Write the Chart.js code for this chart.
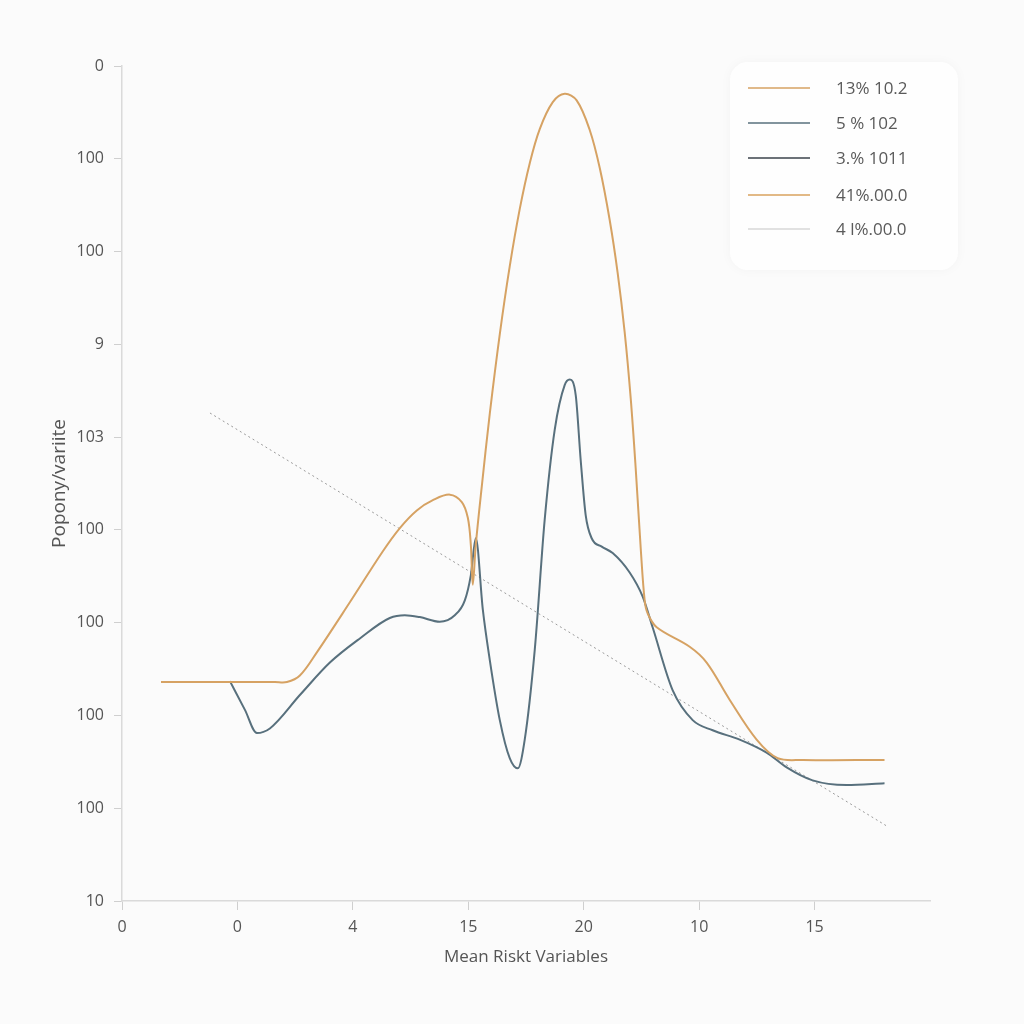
<!DOCTYPE html>
<html>
<head>
<meta charset="utf-8">
<script src="https://cdn.jsdelivr.net/npm/chart.js@4/dist/chart.umd.min.js"></script>
<style>
  html, body { margin: 0; padding: 0; background: #fbfbfb; }
  #wrap { width: 1024px; height: 1024px; }
</style>
</head>
<body>
<div id="wrap"><canvas id="c" width="1024" height="1024"></canvas></div>
<script>
// ---- data ----
const xTickLabels = ["0", "0", "4", "15", "20", "10", "15"];
const yTickLabels = ["10", "100", "100", "100", "100", "103", "9", "100", "100", "0"]; // bottom -> top

const seriesLabels = ["13% 10.2", "5 % 102", "3.% 1011", "41%.00.0", "4 l%.00.0"];

const orangeX = [0.338, 1.325, 1.429, 1.541, 1.688, 1.974, 2.260, 2.407, 2.554, 2.693, 2.840, 2.944, 2.996, 3.022, 3.039, 3.065, 3.117, 3.186, 3.273, 3.359, 3.446, 3.532, 3.619, 3.732, 3.835, 3.939, 4.052, 4.139, 4.225, 4.294, 4.355, 4.407, 4.450, 4.494, 4.528, 4.554, 4.632, 4.918, 5.065, 5.264, 5.498, 5.680, 5.900, 6.606];
const orangeY = [2.36, 2.36, 2.36, 2.43, 2.68, 3.22, 3.77, 4.02, 4.21, 4.32, 4.38, 4.30, 4.13, 3.84, 3.41, 3.84, 4.47, 5.25, 6.11, 6.84, 7.46, 7.95, 8.32, 8.61, 8.70, 8.63, 8.31, 7.90, 7.34, 6.77, 6.13, 5.42, 4.67, 3.80, 3.24, 3.10, 2.95, 2.74, 2.57, 2.17, 1.74, 1.54, 1.52, 1.52];

const slateX = [0.935, 1.065, 1.169, 1.281, 1.541, 1.801, 2.061, 2.320, 2.450, 2.580, 2.753, 2.883, 2.970, 3.022, 3.065, 3.126, 3.186, 3.273, 3.359, 3.429, 3.489, 3.576, 3.662, 3.749, 3.835, 3.879, 3.931, 3.974, 4.017, 4.069, 4.156, 4.251, 4.398, 4.511, 4.597, 4.771, 4.944, 5.117, 5.351, 5.584, 5.758, 5.983, 6.277, 6.606];
const slateY = [2.37, 2.06, 1.81, 1.86, 2.22, 2.57, 2.83, 3.05, 3.08, 3.06, 3.01, 3.08, 3.24, 3.51, 3.91, 3.14, 2.60, 1.95, 1.54, 1.43, 1.74, 2.71, 4.11, 5.08, 5.56, 5.62, 5.45, 4.75, 4.16, 3.91, 3.82, 3.75, 3.54, 3.28, 2.95, 2.27, 1.95, 1.84, 1.74, 1.60, 1.44, 1.30, 1.25, 1.27];

const darkX = [];
const darkY = [];
const orange2X = [];
const orange2Y = [];

const trendX = [0.762, 6.623];
const trendY = [5.26, 0.81];

const zip = (xs, ys) => xs.map((x, i) => ({ x: x, y: ys[i] }));

const colors = ["#d6a263", "#58707d", "#3b434b", "#d9a25e", "#c4c4c4"];

const FONT = "'Open Sans', 'Noto Sans', sans-serif";

const legendPlugin = {
  id: 'innerLegend',
  beforeDatasetsDraw(chart) {
    const ctx = chart.ctx;
    ctx.save();
    ctx.shadowColor = 'rgba(0,0,0,0.035)';
    ctx.shadowBlur = 12;
    ctx.fillStyle = '#fefefe';
    const x = 730, y = 62, w = 228, h = 208, r = 18;
    ctx.beginPath();
    ctx.moveTo(x + r, y);
    ctx.arcTo(x + w, y, x + w, y + h, r);
    ctx.arcTo(x + w, y + h, x, y + h, r);
    ctx.arcTo(x, y + h, x, y, r);
    ctx.arcTo(x, y, x + w, y, r);
    ctx.closePath();
    ctx.fill();
    ctx.restore();
  },
  afterDraw(chart) {
    const ctx = chart.ctx;
    const rows = [88, 123, 158, 195, 229];
    ctx.save();
    chart.data.datasets.forEach((ds, i) => {
      const yy = rows[i];
      ctx.strokeStyle = i === 4 ? colors[4] : ds.borderColor;
      ctx.lineWidth = i === 4 ? 1 : 1.6;
      ctx.setLineDash([]);
      ctx.beginPath();
      ctx.moveTo(748, yy);
      ctx.lineTo(810, yy);
      ctx.stroke();
      ctx.fillStyle = '#5a5a5a';
      ctx.font = "17px " + FONT;
      ctx.textBaseline = 'middle';
      ctx.textAlign = 'left';
      ctx.fillText(ds.label, 836, yy + 1);
    });
    ctx.restore();
  }
};

new Chart(document.getElementById('c'), {
  type: 'line',
  data: {
    datasets: [
      { label: seriesLabels[0], data: zip(orangeX, orangeY), borderColor: colors[0], borderWidth: 2, tension: 0.35, pointRadius: 0, fill: false },
      { label: seriesLabels[1], data: zip(slateX, slateY), borderColor: colors[1], borderWidth: 2, cubicInterpolationMode: 'monotone', pointRadius: 0, fill: false },
      { label: seriesLabels[2], data: zip(darkX, darkY), borderColor: colors[2], borderWidth: 2, pointRadius: 0 },
      { label: seriesLabels[3], data: zip(orange2X, orange2Y), borderColor: colors[3], borderWidth: 2, pointRadius: 0 },
      { label: seriesLabels[4], data: zip(trendX, trendY), borderColor: '#9a9a9a', borderWidth: 1, borderDash: [2, 3], pointRadius: 0, tension: 0 }
    ]
  },
  options: {
    responsive: false,
    animation: false,
    devicePixelRatio: 1,
    layout: { padding: { left: 0, top: 66, right: 94, bottom: 0 } },
    plugins: { legend: { display: false }, tooltip: { enabled: false } },
    scales: {
      x: {
        type: 'linear',
        min: 0,
        max: 7,
        afterBuildTicks(scale) { scale.ticks = xTickLabels.map((_, i) => ({ value: i })); },
        afterFit(scale) { scale.height = 123; },
        ticks: {
          callback: (v) => xTickLabels[v] ?? '',
          color: '#555',
          font: { family: FONT, size: 16 },
          padding: 8,
          maxRotation: 0,
          autoSkip: false
        },
        grid: { drawOnChartArea: false, drawTicks: true, tickLength: 9, tickColor: '#cfcfcf', color: '#cfcfcf' },
        border: { color: '#dadada', width: 1.5 },
        title: { display: true, text: 'Mean Riskt Variables', color: '#555', font: { family: FONT, size: 17 }, padding: { top: 0, bottom: 57 } }
      },
      y: {
        type: 'linear',
        min: 0,
        max: 9,
        afterBuildTicks(scale) { scale.ticks = yTickLabels.map((_, i) => ({ value: i })); },
        afterFit(scale) { scale.width = 122; },
        ticks: {
          callback: (v) => yTickLabels[v] ?? '',
          color: '#555',
          font: { family: FONT, size: 16 },
          padding: 10,
          autoSkip: false
        },
        grid: { drawOnChartArea: false, drawTicks: true, tickLength: 8, tickColor: '#cfcfcf', color: '#cfcfcf' },
        border: { color: '#dadada', width: 1.5 },
        title: { display: true, text: 'Popony/variite', color: '#555', font: { family: FONT, size: 19 }, padding: { top: 48, bottom: 0 } }
      }
    }
  },
  plugins: [legendPlugin]
});
</script>
</body>
</html>
